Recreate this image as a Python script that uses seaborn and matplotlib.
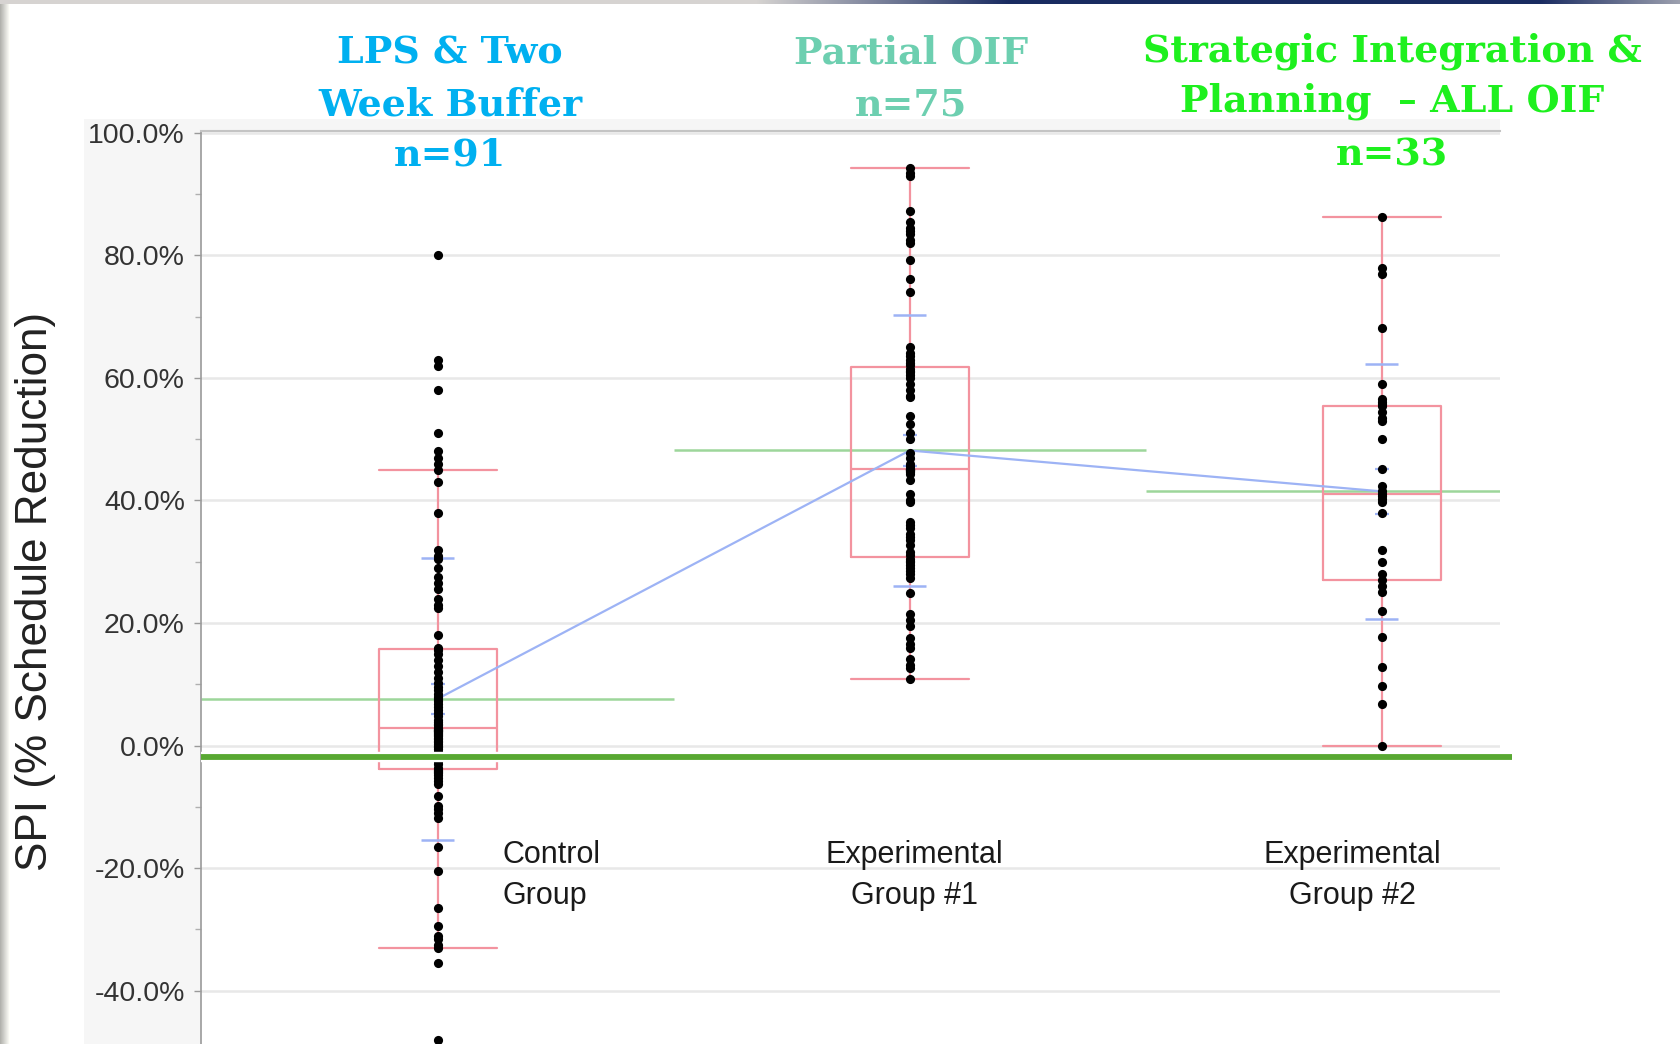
import numpy as np
import pandas as pd
import matplotlib
matplotlib.use("Agg")
import matplotlib.pyplot as plt
import matplotlib.patheffects as pe
from matplotlib import font_manager
from matplotlib.patches import Rectangle
from matplotlib.ticker import FixedLocator, MultipleLocator
import seaborn as sns

# ---------------- data ----------------
groups = ["Control Group", "Experimental Group #1", "Experimental Group #2"]
group_labels = ["Control\nGroup", "Experimental\nGroup #1", "Experimental\nGroup #2"]

# SPI (% schedule reduction) per project
control_spi = [
    -48.0, -35.5, -33.0, -32.5, -31.5, -31.0, -29.5, -26.5, -20.5, -16.5,
    -11.8, -11.0, -10.3, -9.8, -8.2, -6.3, -5.8, -5.3, -4.8, -4.5,
    -4.3, -4.1, -4.0,
    -3.6, -3.0, -2.5, -1.0, -0.5, -0.2, 0.0, 0.3, 0.6, 0.8,
    1.0, 1.3, 1.5, 1.7, 1.9, 2.0, 2.2, 2.3, 2.4, 2.5, 2.6, 2.7,
    2.8,
    3.3, 3.6, 3.9, 4.2, 4.9, 5.3, 5.8, 6.3, 6.8, 7.2, 7.6, 8.0,
    8.5, 9.0, 9.5, 10.2, 11.0, 12.0, 13.0, 14.0, 15.0, 15.6,
    16.0, 18.0, 22.5, 23.0, 24.0, 25.5, 26.5, 27.5, 29.0, 30.5,
    31.0, 32.0, 38.0, 43.0, 45.0, 46.0, 47.0, 48.0, 51.0, 58.0,
    62.0, 63.0, 80.0,
]
exp1_spi = [
    10.8, 12.7, 13.2, 14.2, 16.0, 16.5, 17.5, 19.5, 20.5, 21.5,
    24.9, 27.3, 28.0, 28.5, 29.0, 29.5, 30.0, 30.2, 30.5,
    31.1, 31.6, 32.7, 33.5, 34.0, 34.5, 35.5, 36.0, 36.5, 39.7,
    40.0, 41.0, 43.3, 44.4, 44.6, 44.8, 44.9, 45.0,
    45.1,
    45.2, 45.6, 46.0, 47.0, 47.8, 50.0, 51.0, 52.5, 53.8, 56.9,
    57.0, 58.0, 59.0, 60.0, 60.5, 61.0, 61.2, 61.5,
    62.1, 62.5, 63.0, 63.5, 64.0, 65.1, 74.0, 76.2, 79.3, 82.0,
    82.5, 83.5, 84.0, 84.5, 85.5, 87.2, 93.0, 93.5, 94.2,
]
exp2_spi = [
    0.0, 6.8, 9.8, 12.9, 17.8, 21.9, 25.0, 26.0, 27.0,
    28.0, 30.0, 32.0, 37.9, 39.7, 40.3, 40.7,
    41.0,
    41.5, 42.3, 45.1, 50.0, 53.0, 53.5, 54.5,
    55.5,
    55.8, 56.0, 56.6, 59.0, 68.1, 77.0, 78.0, 86.2,
]
group_values = [control_spi, exp1_spi, exp2_spi]

heading_lines = [
    ["LPS & Two", "Week Buffer"],
    ["Partial OIF"],
    ["Strategic Integration &", "Planning  \u2013 ALL OIF"],
]
heading_colors = ["#00b0f0", "#6dcfb0", "#1ef01e"]

y_ticks = [-40, -20, 0, 20, 40, 60, 80, 100]
target_line = -1.8

# ---------------- style ----------------
box_red = "#f3939f"
mean_green = "#9dd69b"
mean_blue = "#9db3f5"
target_green = "#58a832"

names = {f.name for f in font_manager.fontManager.ttflist}
narrow = "Liberation Sans Narrow" if "Liberation Sans Narrow" in names else "Liberation Sans"
narrow_size = 24 if narrow == "Liberation Sans Narrow" else 20.5
label_size = 26 if narrow == "Liberation Sans Narrow" else 22

sns.set_theme(style="white")
plt.rcParams["font.family"] = ["Liberation Sans", "DejaVu Sans"]

W, H = 1681, 1044
fig = plt.figure(figsize=(W / 100, H / 100), dpi=100, facecolor="white")


def fx(px):
    return px / W


def fy(py):
    return 1 - py / H


# light frame panel behind the axis labels
fig.add_artist(Rectangle((fx(84), 0), fx(1500) - fx(84), fy(119), transform=fig.transFigure,
                         facecolor="#f6f6f6", edgecolor="none", zorder=-5))

# slide edges
left_edge = np.ones((H, 10, 3))
shade = np.linspace(0.70, 1.0, 10)
left_edge[:] = shade[None, :, None]
left_edge[..., 2] -= 0.02
fig.figimage(np.clip(left_edge, 0, 1), xo=0, yo=0, zorder=-4)
top_edge = np.ones((4, W, 3))
t = np.linspace(0, 1, W)
navy = np.array([0.10, 0.17, 0.38])
grey = np.array([0.84, 0.83, 0.82])
mix = np.clip((t - 0.45) / 0.15, 0, 1) * np.clip((1.0 - t) / 0.12 + 0.3, 0, 1)
top_edge[:] = (grey[None, :] * (1 - mix[:, None]) + navy[None, :] * mix[:, None])[None, :, :]
fig.figimage(top_edge, xo=0, yo=H - 4, zorder=-4)

ax = fig.add_axes([fx(201.5), 0, fx(1500) - fx(201.5), fy(131)])
ax.set_facecolor("white")

df = pd.DataFrame({
    "group": np.repeat(groups, [len(v) for v in group_values]),
    "spi": np.concatenate(group_values),
})

sns.boxplot(data=df, x="group", y="spi", order=groups, width=0.25, whis=1.5,
            showfliers=False, fill=False, color=box_red, linecolor=box_red,
            linewidth=1.6, capwidths=0.25, ax=ax, zorder=3)

stats = df.groupby("group", sort=False)["spi"].agg(["mean", "std", "count"]).loc[groups]
means = stats["mean"].to_numpy()
sds = stats["std"].to_numpy()
ses = sds / np.sqrt(stats["count"].to_numpy())
pos = np.arange(len(groups))

# group means across each category band
ax.hlines(means, pos - 0.5, pos + 0.5, color=mean_green, lw=1.8, zorder=2)
# means connected
ax.plot(pos, means, color=mean_blue, lw=1.6, zorder=4)
# mean +/- 1 SD and mean +/- SE marks
for i in range(len(groups)):
    ax.hlines([means[i] - sds[i], means[i] + sds[i]], i - 0.035, i + 0.035,
              color=mean_blue, lw=1.8, zorder=4)
    ax.hlines([means[i] - ses[i], means[i] + ses[i]], i - 0.015, i + 0.015,
              color=mean_blue, lw=1.6, zorder=4)

sns.stripplot(data=df, x="group", y="spi", order=groups, jitter=False,
              color="black", size=6.6, linewidth=0, ax=ax, zorder=5)

ax.plot([-0.5, 2.275], [target_line, target_line], color=target_green, lw=4.2,
        solid_capstyle="butt", clip_on=False, zorder=6,
        path_effects=[pe.Stroke(linewidth=7.5, foreground="white"), pe.Normal()])

ax.set_xlim(-0.5, 2.25)
ax.set_ylim(-48.7, 100.3)
ax.set_xticks([])
ax.set_xlabel("")
ax.set_ylabel("")
ax.yaxis.set_major_locator(FixedLocator(y_ticks))
ax.yaxis.set_minor_locator(MultipleLocator(10))
ax.set_yticklabels([f"{v:.1f}%" for v in y_ticks], fontfamily=narrow,
                   fontsize=narrow_size, color="#333333")
ax.tick_params(axis="y", which="major", length=5, width=1, color="#9a9a9a",
               direction="out", pad=7, left=True)
ax.tick_params(axis="y", which="minor", length=4, width=1, color="#b0b0b0",
               direction="out", left=True)
ax.yaxis.grid(True, color="#e8e8e8", lw=1.8)
ax.xaxis.grid(False)
ax.set_axisbelow(True)
for side in ["right", "bottom"]:
    ax.spines[side].set_visible(False)
ax.spines["left"].set_color("#9a9a9a")
ax.spines["left"].set_linewidth(1.2)
ax.spines["top"].set_color("#c4c4c4")
ax.spines["top"].set_linewidth(1.5)

# category names placed inside the plot
label_kw = dict(va="center", fontfamily=narrow, fontsize=label_size, color="#1a1a1a",
                linespacing=1.45, zorder=7)
ax.text(0.137, -21.2, group_labels[0], ha="left", multialignment="left", **label_kw)
ax.text(1.010, -21.2, group_labels[1], ha="center", multialignment="center", **label_kw)
ax.text(1.938, -21.2, group_labels[2], ha="center", multialignment="center", **label_kw)

fig.text(fx(36), fy(591), "SPI (% Schedule Reduction)", rotation=90, ha="center", va="center",
         fontsize=31.8, color="#222222", fontfamily="Liberation Sans")

# group headings with sample sizes
head_x = [450, 911, 1392]
head_baselines = [[64, 115, 166], [64, 116], [61, 111.5, 166]]
for k in range(len(groups)):
    lines = heading_lines[k] + [f"n={len(group_values[k])}"]
    for line, base in zip(lines, head_baselines[k]):
        fig.text(fx(head_x[k]), fy(base), line, ha="center", va="baseline",
                 fontsize=27.4, fontweight="bold", fontfamily="DejaVu Serif",
                 color=heading_colors[k], zorder=10)

fig.savefig("out.png", dpi=100, facecolor="white")
